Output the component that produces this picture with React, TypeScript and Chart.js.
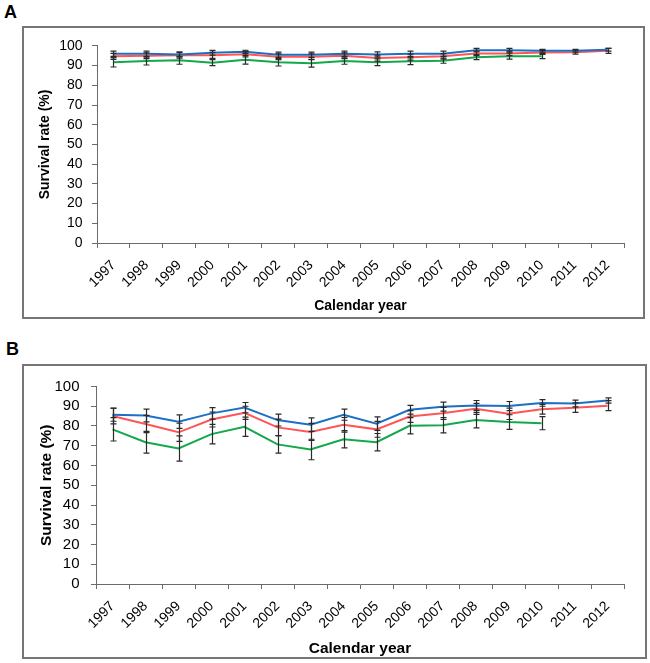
import React, { useEffect, useRef } from 'react';
import { Chart, registerables } from 'chart.js';

Chart.register(...registerables);

const YEARS = ['1997', '1998', '1999', '2000', '2001', '2002', '2003', '2004', '2005', '2006', '2007', '2008', '2009', '2010', '2011', '2012'];

// Panel A
const BLUE_A = [96, 96, 95.7, 96.5, 97, 95.5, 95.5, 96, 95.7, 96, 96, 97.8, 97.8, 97.5, 97.5, 98];
const RED_A = [94.7, 95, 95.2, 95.2, 95.8, 94.5, 94.5, 95, 93.8, 94.3, 94.7, 96.2, 96.2, 96.7, 96.8, 97.5];
const GREEN_A = [91.7, 92.3, 92.7, 91.5, 93, 91.7, 91.2, 92.3, 91.7, 92.2, 92.5, 94.3, 94.8, 94.8, null, null];
const BLUE_A_ERR = [1.3, 1.3, 1.3, 1.2, 0.8, 1.3, 1.3, 1.3, 1.3, 1.3, 1.3, 0.9, 0.9, 0.7, 0.7, 0.7];
const RED_A_ERR = [1.5, 1.5, 1.4, 1.5, 1.4, 1.5, 1.5, 1.5, 1.5, 1.5, 1.4, 1.1, 1.1, 1.0, 1.0, 1.3];
const GREEN_A_ERR = [2.4, 2.0, 2.0, 1.5, 2.2, 1.9, 2.0, 1.6, 1.7, 1.7, 1.3, 1.3, 1.5, 1.3, null, null];

// Panel B
const BLUE_B = [85.7, 85.3, 82.2, 86.4, 89.3, 83, 80.7, 85.7, 81.2, 88.2, 89.8, 90.4, 90.1, 91.7, 91.4, 92.9];
const RED_B = [85.1, 81, 76.8, 83.3, 86.7, 79.3, 77, 80.6, 78.3, 84.8, 86.4, 88.7, 86.2, 88.5, 89.3, 90.3];
const GREEN_B = [78.3, 71.8, 68.6, 75.9, 79.6, 70.7, 68.1, 73.3, 71.8, 80.1, 80.4, 83, 82, 81.4, null, null];
const BLUE_B_ERR = [3.3, 3.2, 3.4, 2.9, 2.6, 3.0, 3.4, 2.8, 3.4, 2.2, 2.3, 2.5, 2.3, 1.7, 1.7, 1.3];
const RED_B_ERR = [4.0, 4.4, 4.6, 3.8, 3.3, 4.2, 4.3, 3.7, 4.0, 3.0, 3.0, 2.8, 2.9, 2.5, 2.4, 2.5];
const GREEN_B_ERR = [5.9, 5.5, 6.4, 4.9, 4.9, 4.4, 5.2, 4.4, 4.4, 4.1, 3.9, 3.9, 3.7, 3.3, null, null];

const Y_MIN = 0;
const Y_MAX = 100;
const Y_STEP = 10;
const X_TITLE = 'Calendar year';
const Y_TITLE = 'Survival rate (%)';

const BLUE = '#1c70c4';
const RED = '#ff5555';
const GREEN = '#13a84b';
const AXIS = '#6b6b6b';
const FONT = '"Liberation Sans", Arial, sans-serif';

type PanelProps = {
  width: number;
  height: number;
  series: { data: (number | null)[]; err: (number | null)[]; color: string }[];
  pad: { left: number; right: number; top: number; bottom: number };
  yWidth: number;
  xHeight: number;
  yTickSize: number;
  yTickPad: number;
  xTickSize: number;
  titleSize: number;
};

function Panel(props: PanelProps) {
  const ref = useRef<HTMLCanvasElement | null>(null);
  useEffect(() => {
    if (!ref.current) return;
    const errs = props.series.map((s) => s.err);
    const errorBars = {
      id: 'errorBars',
      afterDatasetsDraw(chart: any) {
        const ctx = chart.ctx;
        const xs = chart.scales.x;
        const ys = chart.scales.y;
        ctx.save();
        ctx.strokeStyle = '#2a2a2a';
        ctx.lineWidth = 1.2;
        chart.data.datasets.forEach((ds: any, di: number) => {
          const e = errs[di];
          ds.data.forEach((v: number | null, i: number) => {
            if (v == null || e[i] == null) return;
            const px = Math.round(xs.getPixelForValue(i)) + 0.5;
            const top = ys.getPixelForValue(v + (e[i] as number));
            const bot = ys.getPixelForValue(v - (e[i] as number));
            ctx.beginPath();
            ctx.moveTo(px, top);
            ctx.lineTo(px, bot);
            ctx.moveTo(px - 3, top);
            ctx.lineTo(px + 3, top);
            ctx.moveTo(px - 3, bot);
            ctx.lineTo(px + 3, bot);
            ctx.stroke();
          });
        });
        ctx.restore();
      },
    };
    const chart = new Chart(ref.current, {
      type: 'line',
      data: {
        labels: YEARS,
        datasets: props.series.map((s) => ({
          data: s.data,
          borderColor: s.color,
          backgroundColor: s.color,
          borderWidth: 2,
          pointRadius: 0,
          tension: 0,
          fill: false,
          spanGaps: false,
        })),
      },
      options: {
        animation: false,
        responsive: false,
        maintainAspectRatio: false,
        layout: { padding: props.pad },
        plugins: { legend: { display: false }, tooltip: { enabled: false } },
        scales: {
          x: {
            type: 'category',
            offset: true,
            grid: { display: true, drawOnChartArea: false, drawTicks: true, tickLength: 5, color: AXIS, offset: true, lineWidth: 1 },
            border: { display: true, color: AXIS, width: 1 },
            ticks: {
              autoSkip: false,
              minRotation: 45,
              maxRotation: 45,
              padding: 9,
              color: '#000',
              font: { family: FONT, size: props.xTickSize },
            },
            title: {
              display: true,
              text: X_TITLE,
              color: '#000',
              padding: 0,
              font: { family: FONT, size: props.titleSize, weight: 'bold', lineHeight: 1 },
            },
            afterFit: (s: any) => {
              s.height = props.xHeight;
            },
          },
          y: {
            min: Y_MIN,
            max: Y_MAX,
            grid: { display: true, drawOnChartArea: false, drawTicks: true, tickLength: 5, color: AXIS, lineWidth: 1 },
            border: { display: true, color: AXIS, width: 1 },
            ticks: {
              stepSize: Y_STEP,
              autoSkip: false,
              maxTicksLimit: 20,
              padding: props.yTickPad,
              color: '#000',
              font: { family: FONT, size: props.yTickSize },
            },
            title: {
              display: true,
              text: Y_TITLE,
              color: '#000',
              padding: 0,
              font: { family: FONT, size: props.titleSize, weight: 'bold', lineHeight: 1 },
            },
            afterFit: (s: any) => {
              s.width = props.yWidth;
            },
          },
        },
      },
      plugins: [errorBars],
    } as any);
    return () => chart.destroy();
  }, []);
  return <canvas ref={ref} width={props.width} height={props.height} style={{ display: 'block', width: props.width, height: props.height }} />;
}

const labelStyle: React.CSSProperties = {
  position: 'absolute',
  fontFamily: FONT,
  fontWeight: 'bold',
  fontSize: 18,
  lineHeight: '18px',
  color: '#000',
};

export default function App() {
  return (
    <div style={{ position: 'absolute', left: 0, top: 0, width: 650, height: 663, background: '#fff', overflow: 'hidden' }}>
      <div style={{ ...labelStyle, left: 4, top: 3 }}>A</div>
      <div style={{ position: 'absolute', left: 22, top: 26, width: 623, height: 293, border: '2px solid #767676', boxSizing: 'border-box' }} />
      <div style={{ position: 'absolute', left: 24, top: 28 }}>
        <Panel
          width={618}
          height={288}
          series={[
            { data: BLUE_A, err: BLUE_A_ERR, color: BLUE },
            { data: RED_A, err: RED_A_ERR, color: RED },
            { data: GREEN_A, err: GREEN_A_ERR, color: GREEN },
          ]}
          pad={{ left: 14.5, right: 18, top: 13, bottom: 3 }}
          yWidth={58.5}
          xHeight={70}
          yTickSize={14}
          yTickPad={9.5}
          xTickSize={14}
          titleSize={14}
        />
      </div>
      <div style={{ ...labelStyle, left: 6, top: 340 }}>B</div>
      <div style={{ position: 'absolute', left: 22, top: 364, width: 625, height: 295, border: '2px solid #767676', boxSizing: 'border-box' }} />
      <div style={{ position: 'absolute', left: 24, top: 366 }}>
        <Panel
          width={620}
          height={290}
          series={[
            { data: BLUE_B, err: BLUE_B_ERR, color: BLUE },
            { data: RED_B, err: RED_B_ERR, color: RED },
            { data: GREEN_B, err: GREEN_B_ERR, color: GREEN },
          ]}
          pad={{ left: 15.25, right: 20, top: 12, bottom: 0 }}
          yWidth={56.75}
          xHeight={72}
          yTickSize={15}
          yTickPad={11.5}
          xTickSize={14}
          titleSize={15.5}
        />
      </div>
    </div>
  );
}
